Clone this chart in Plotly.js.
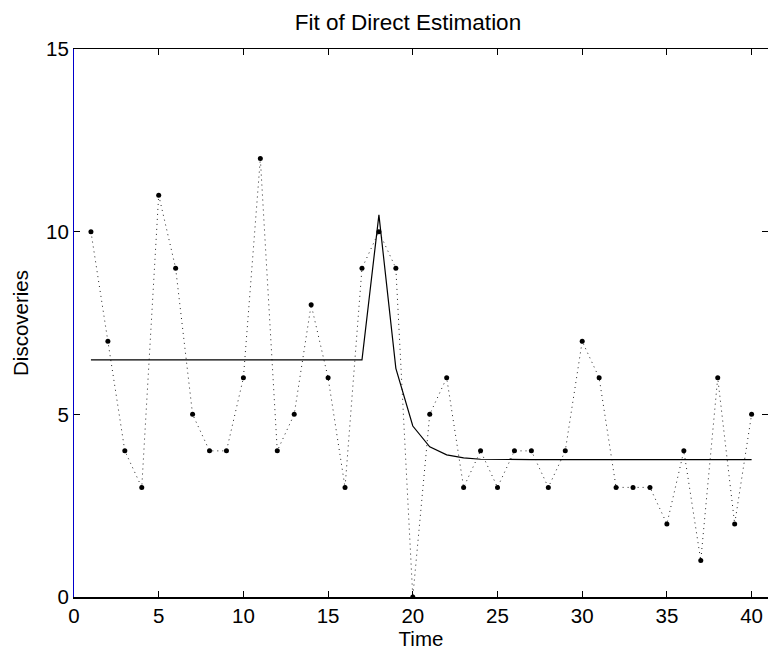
<!DOCTYPE html>
<html>
<head>
<meta charset="utf-8">
<script src="https://cdn.plot.ly/plotly-3.0.1.min.js"></script>
<style>html,body{margin:0;padding:0;overflow:hidden;background:#fff}</style>
</head>
<body>
<div id="chart" style="width:768px;height:655px"></div>
<script>
// Data
var time = [1,2,3,4,5,6,7,8,9,10,11,12,13,14,15,16,17,18,19,20,21,22,23,24,25,26,27,28,29,30,31,32,33,34,35,36,37,38,39,40];
var discoveries = [10,7,4,3,11,9,5,4,4,6,12,4,5,8,6,3,9,10,9,0,5,6,3,4,3,4,4,3,4,7,6,3,3,3,2,4,1,6,2,5];
var fitValues = [6.49,6.49,6.49,6.49,6.49,6.49,6.49,6.49,6.49,6.49,6.49,6.49,6.49,6.49,6.49,6.49,6.49,10.46,6.26,4.68,4.11,3.89,3.81,3.77,3.76,3.76,3.76,3.76,3.76,3.76,3.76,3.76,3.76,3.76,3.76,3.76,3.76,3.76,3.76,3.76];
var xTicks = [0,5,10,15,20,25,30,35,40];
var yTicks = [0,5,10,15];

var font = 'Liberation Sans, Arial, sans-serif';

var traces = [
  {x: time, y: discoveries, type: 'scatter', mode: 'lines+markers',
   line: {color: '#222', width: 1, dash: '1px,4px'},
   marker: {color: '#000', size: 5}, hoverinfo: 'x+y'},
  {x: time, y: fitValues, type: 'scatter', mode: 'lines',
   line: {color: '#000', width: 1.2}},
  {x: [time[0]], y: [discoveries[0]], yaxis: 'y2', type: 'scatter', mode: 'markers',
   marker: {opacity: 0}, hoverinfo: 'skip'}
];

var layout = {
  width: 768, height: 655,
  margin: {l: 74, r: 0, t: 49, b: 58},
  paper_bgcolor: '#fff', plot_bgcolor: '#fff',
  showlegend: false,
  font: {family: font, size: 20.5, color: '#000'},
  title: {text: 'Fit of Direct Estimation', font: {family: font, size: 22.5, color: '#000'},
          xref: 'container', x: 408/768, xanchor: 'center', yref: 'container', y: 1 - 22/655, yanchor: 'middle'},
  xaxis: {range: [0, 694/16.94], tickvals: xTicks, ticktext: xTicks.map(String),
          ticks: 'inside', ticklen: 6, tickwidth: 1, tickcolor: '#000',
          showline: true, linecolor: '#000', linewidth: 1.5, mirror: 'ticks',
          showgrid: false, zeroline: false,
          tickfont: {family: font, size: 20.5, color: '#000'},
          title: {text: 'Time', font: {family: font, size: 20.5, color: '#000'}, standoff: 0}},
  yaxis: {range: [0, 15], tickvals: yTicks, ticktext: yTicks.map(String),
          ticks: 'inside', ticklen: 6, tickwidth: 1, tickcolor: '#000',
          showline: true, linecolor: '#0000cc', linewidth: 1, mirror: false,
          showgrid: false, zeroline: false,
          tickfont: {family: font, size: 20.5, color: '#000'},
          title: {text: 'Discoveries', font: {family: font, size: 20.5, color: '#000'}, standoff: 11}},
  yaxis2: {range: [0, 15], overlaying: 'y', side: 'right', tickvals: yTicks,
           showticklabels: false, ticks: 'inside', ticklen: 6, tickwidth: 1, tickcolor: '#000',
           showline: false, showgrid: false, zeroline: false}
};

Plotly.newPlot('chart', traces, layout, {displayModeBar: false, staticPlot: true});
</script>
</body>
</html>
